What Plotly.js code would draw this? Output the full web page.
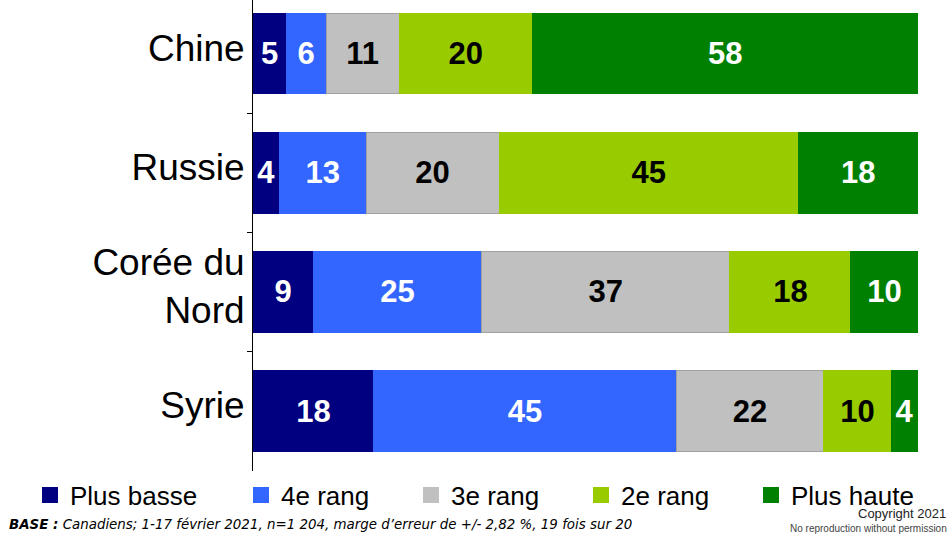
<!DOCTYPE html>
<html>
<head>
<meta charset="utf-8">
<script src="https://cdn.plot.ly/plotly-3.0.1.min.js"></script>
<style>html,body{margin:0;padding:0;background:#fff;}#chart{width:951px;height:535px;}</style>
</head>
<body>
<div id="chart"></div>
<script>
// Categories (top to bottom)
const categories = ["Chine", "Russie", "Corée du<br>Nord", "Syrie"];
// Series names
const seriesNames = ["Plus basse", "4e rang", "3e rang", "2e rang", "Plus haute"];
// Series values (%), one per category
const plusBasse = [5, 4, 9, 18];
const rang4 = [6, 13, 25, 45];
const rang3 = [11, 20, 37, 22];
const rang2 = [20, 45, 18, 10];
const plusHaute = [58, 18, 10, 4];
const seriesValues = [plusBasse, rang4, rang3, rang2, plusHaute];
// Styles
const colors = ["#000080", "#3366FF", "#C0C0C0", "#99CC00", "#008000"];
const textColors = ["#FFFFFF", "#FFFFFF", "#000000", "#000000", "#FFFFFF"];
const lineColors = ["#000080", "#3366FF", "#A0A0A0", "#99CC00", "#008000"];
const legendWidths = [166, 125, 125, 125, 125];

const FONT = "Liberation Sans, Arial, sans-serif";
const traces = [];
seriesValues.forEach((vals, i) => {
  traces.push({
    type: "bar",
    orientation: "h",
    name: seriesNames[i],
    y: categories,
    x: vals,
    text: vals.map(String),
    textposition: "inside",
    insidetextanchor: "middle",
    textangle: 0,
    constraintext: "none",
    textfont: {family: FONT, size: 31, color: textColors[i], weight: "bold"},
    marker: {color: colors[i], line: {color: lineColors[i], width: 1}},
    showlegend: false,
    hoverinfo: "skip"
  });
});
seriesNames.forEach((nm, i) => {
  traces.push({
    type: "scatter",
    mode: "markers",
    name: nm,
    x: [null],
    y: [null],
    marker: {symbol: "square", size: 17, color: colors[i]},
    showlegend: true,
    legendwidth: legendWidths[i],
    hoverinfo: "skip"
  });
});

const W = 951, H = 535;
const L = 253, R = 33, T = 0, B = 64;
const pw = W - L - R, ph = H - T - B;
const px = x => (x - L) / pw;
const py = y => (H - B - y) / ph;

const layout = {
  width: W, height: H,
  margin: {l: L, r: R, t: T, b: B, pad: 0},
  paper_bgcolor: "#FFFFFF",
  plot_bgcolor: "#FFFFFF",
  barmode: "stack",
  barnorm: "percent",
  bargap: 0.323,
  font: {family: FONT, color: "#000000"},
  xaxis: {visible: false, range: [0, 100], fixedrange: true},
  yaxis: {
    type: "category",
    range: [3.502, -0.45],
    autorange: false,
    showline: true, linecolor: "#000000", linewidth: 1,
    ticks: "outside", tickson: "boundaries", ticklen: 5, tickcolor: "#000000", tickwidth: 1,
    ticklabelshift: 6,
    showgrid: false, zeroline: false,
    tickfont: {family: FONT, size: 37, color: "#000000"},
    fixedrange: true
  },
  showlegend: true,
  legend: {
    orientation: "h",
    traceorder: "normal",
    x: px(30), xanchor: "left",
    y: py(495), yanchor: "middle",
    font: {family: FONT, size: 26, color: "#000000"},
    bgcolor: "rgba(0,0,0,0)",
    itemclick: false, itemdoubleclick: false
  },
  annotations: [
    {
      xref: "paper", yref: "paper",
      x: px(7), y: py(524), xanchor: "left", yanchor: "middle",
      showarrow: false,
      text: "<b><i>BASE :</i></b><i> Canadiens; 1-17 février 2021, n=1 204, marge d’erreur de +/- 2,82 %, 19 fois sur 20</i>",
      font: {family: "DejaVu Sans, sans-serif", size: 13.4, color: "#000000"}
    },
    {
      xref: "paper", yref: "paper",
      x: px(948), y: py(513), xanchor: "right", yanchor: "middle",
      showarrow: false,
      text: "Copyright 2021",
      font: {family: FONT, size: 13, color: "#222222"}
    },
    {
      xref: "paper", yref: "paper",
      x: px(949), y: py(528), xanchor: "right", yanchor: "middle",
      showarrow: false,
      text: "No reproduction without permission",
      font: {family: FONT, size: 10, color: "#444444"}
    }
  ]
};

Plotly.newPlot("chart", traces, layout, {staticPlot: true, displayModeBar: false});
</script>
</body>
</html>
